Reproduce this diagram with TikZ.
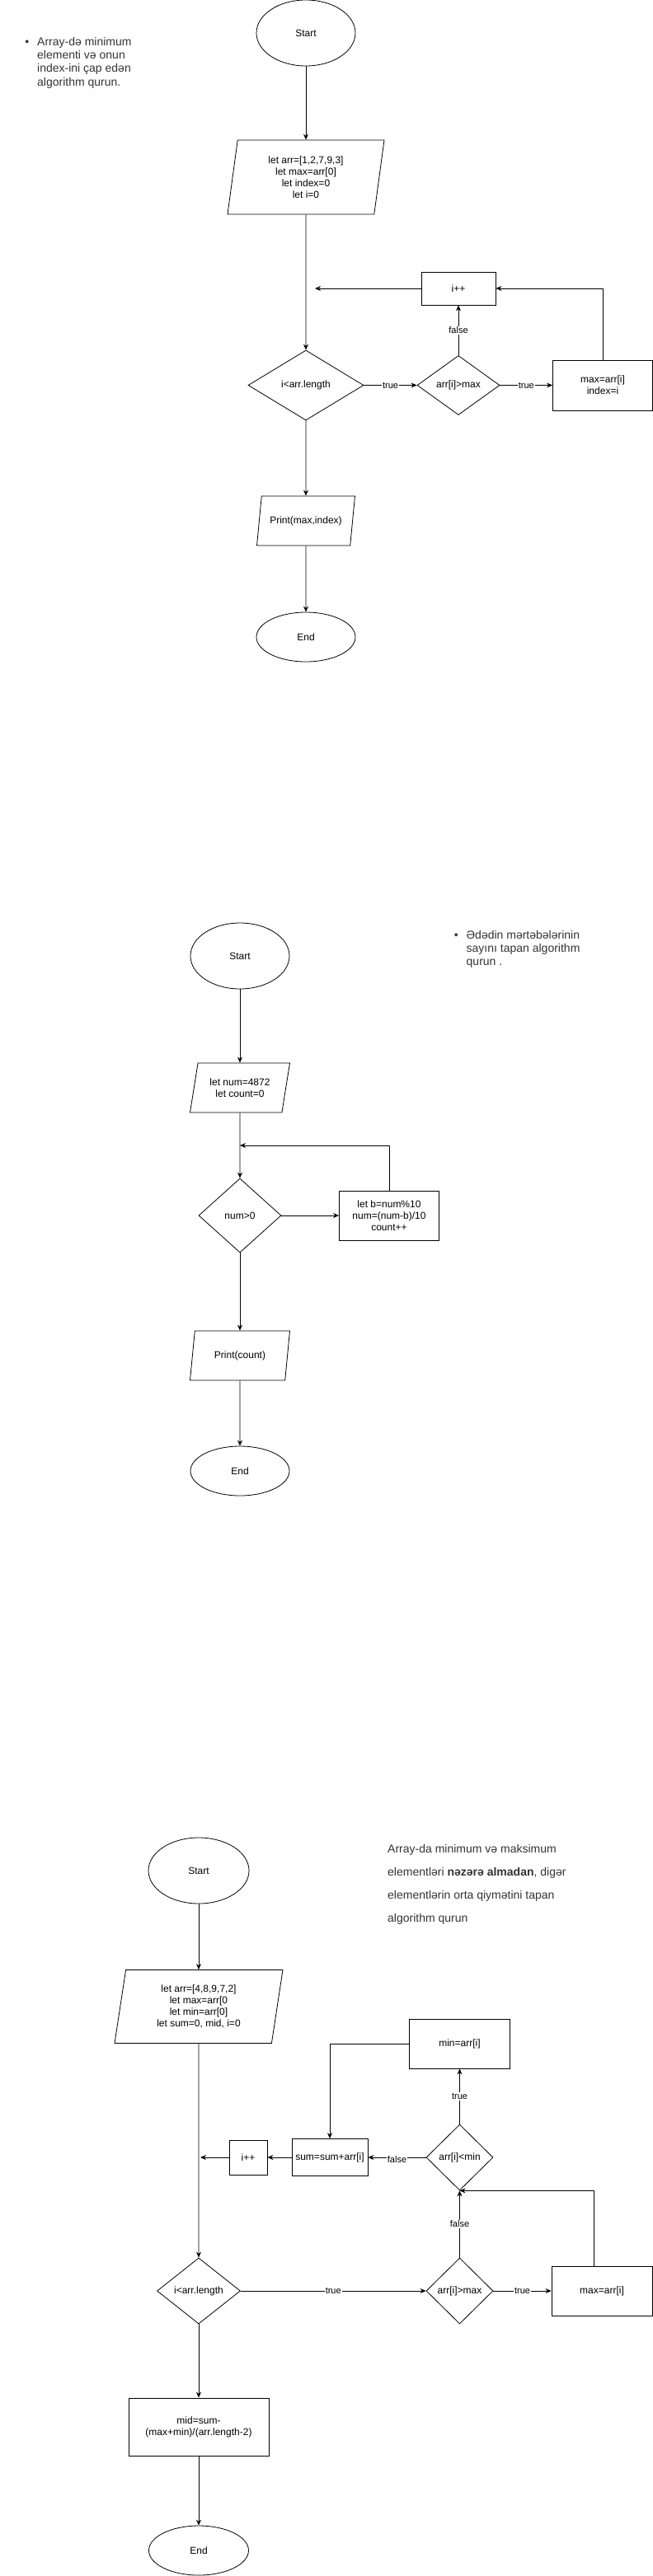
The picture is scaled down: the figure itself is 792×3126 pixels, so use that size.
\documentclass[tikz,border=0pt]{standalone}
\usepackage{fontspec}
\setmainfont{Liberation Sans}
\usepackage{xcolor}
\usepackage{tikz}
\usetikzlibrary{shapes.geometric, arrows, arrows.meta}
\usetikzlibrary{positioning}
\definecolor{notegray}{HTML}{333333}
\tikzstyle{startstop} = [ellipse, minimum width=120pt, minimum height=60pt, text centered, draw=black, thick, font=\fontsize{12}{14}\selectfont]
\tikzstyle{io} = [trapezium, trapezium left angle=72, trapezium right angle=108, trapezium stretches body, minimum width=120pt, minimum height=60pt, inner xsep=2pt, align=center, draw=black, thick, font=\fontsize{12}{14}\selectfont]
\tikzstyle{process} = [rectangle, minimum width=121pt, minimum height=60pt, inner sep=2pt, align=center, draw=black, thick, font=\fontsize{12}{14}\selectfont]
\tikzstyle{decision} = [diamond, minimum width=100pt, minimum height=80pt, inner sep=0pt, align=center, draw=black, thick, font=\fontsize{12}{14}\selectfont]
\tikzstyle{arrow} = [thick,->,>={Stealth[length=7pt,width=6pt]}]
\tikzstyle{lbl} = [fill=white, inner sep=1pt, font=\fontsize{11}{13}\selectfont]
\tikzstyle{note} = [anchor=north west, align=left, inner sep=0pt, text=notegray]

\begin{document}
\begin{tikzpicture}[x=1pt, y=-1pt]
    \useasboundingbox (0,0) rectangle (792,3126);

    \node (n1) [note, font=\fontsize{14}{16.3}\selectfont] at (45,45) {\llap{•\hspace{10pt}}Array-də minimum\\elementi və onun\\index-ini çap edən\\algorithm qurun.};
    \node (1) [startstop, minimum height=80pt] at (371,40) {Start};
    \node (2) [io, below of=1, node distance=175pt, minimum width=190pt, minimum height=90pt, trapezium left angle=78, trapezium right angle=102] {let arr=[1,2,7,9,3]\\let max=arr[0]\\let index=0\\let i=0};
    \node (3) [decision, below of=2, node distance=252.5pt, minimum width=140pt, minimum height=85pt] {i<arr.length};
    \node (4) [decision, right of=3, node distance=185pt, minimum height=72pt] {arr[i]>max};
    \node (5) [process, right of=4, node distance=175pt, minimum height=61pt] {max=arr[i]\\index=i};
    \node (6) [process, above of=4, node distance=117.5pt, minimum width=90pt, minimum height=40pt] {i++};
    \node (7) [io, below of=3, node distance=164.5pt, minimum width=119pt, inner xsep=-7pt] {Print(max,index)};
    \node (8) [startstop, below of=7, node distance=141pt] {End};
    \coordinate [left of=6, node distance=174pt] (c1);

    \draw [arrow] (1) -- (2);
    \draw [arrow] (2) -- (3);
    \draw [arrow] (3) -- node [lbl] {true} (4);
    \draw [arrow] (4) -- node [lbl] {true} (5);
    \draw [arrow] (4) -- node [lbl] {false} (6);
    \draw [arrow] (5.north) |- (6.east);
    \draw [arrow] (6) -- (c1);
    \draw [arrow] (3) -- (7);
    \draw [arrow] (7) -- (8);

    \node (n2) [note, font=\fontsize{14}{16}\selectfont] at (565.5,1129) {\llap{•\hspace{10pt}}Ədədin mərtəbələrinin\\sayını tapan algorithm\\qurun .};
    \node (9) [startstop, minimum height=80pt] at (291,1160) {Start};
    \node (10) [io, below of=9, node distance=160pt, minimum width=121pt] {let num=4872\\let count=0};
    \node (11) [decision, below of=10, node distance=155pt, minimum height=90pt] {num>0};
    \node (12) [process, right of=11, node distance=181pt] {let b=num\%10\\num=(num-b)/10\\count++};
    \node (13) [io, below of=11, node distance=170pt, minimum width=121pt] {Print(count)};
    \node (14) [startstop, below of=13, node distance=140pt] {End};
    \coordinate [above of=11, node distance=85pt] (c2);

    \draw [arrow] (9) -- (10);
    \draw [arrow] (10) -- (11);
    \draw [arrow] (11) -- (12);
    \draw [arrow] (12.north) |- (c2);
    \draw [arrow] (11) -- (13);
    \draw [arrow] (13) -- (14);

    \node (n3) [note, font=\fontsize{14}{28}\selectfont] at (470,2238) {Array-da minimum və maksimum\\elementləri \textbf{nəzərə almadan}, digər\\elementlərin orta qiymətini tapan\\algorithm qurun};
    \node (15) [startstop, minimum width=122pt, minimum height=80pt] at (241,2270) {Start};
    \node (16) [io, below of=15, node distance=165pt, minimum width=204pt, minimum height=89pt, trapezium left angle=77, trapezium right angle=103] {let arr=[4,8,9,7,2]\\let max=arr[0\\let min=arr[0]\\let sum=0, mid, i=0};
    \node (17) [decision, below of=16, node distance=345pt, minimum width=101pt] {i<arr.length};
    \node (18) [decision, right of=17, node distance=316.5pt, minimum width=81pt] {arr[i]>max};
    \node (19) [process, right of=18, node distance=172.5pt, minimum width=122pt] {max=arr[i]};
    \node (20) [decision, above of=18, node distance=162pt, minimum width=81pt] {arr[i]<min};
    \node (21) [process, above of=20, node distance=138pt, minimum width=122pt] {min=arr[i]};
    \node (22) [process, left of=20, node distance=157.5pt, minimum width=92pt, minimum height=45pt] {sum=sum+arr[i]};
    \node (23) [process, left of=22, node distance=99pt, minimum width=46pt, minimum height=42pt] {i++};
    \node (24) [process, below of=17, node distance=165pt, minimum width=170pt, minimum height=70pt] {mid=sum-\\(max+min)/(arr.length-2)};
    \node (25) [startstop, below of=24, node distance=150pt, minimum width=121pt] {End};
    \coordinate [left of=23, node distance=58pt] (c3);

    \draw [arrow] (15) -- (16);
    \draw [arrow] (16) -- (17);
    \draw [arrow] (17) -- node [lbl] {true} (18);
    \draw [arrow] (18) -- node [lbl] {true} (19);
    \draw [arrow] (18) -- node [lbl] {false} (20);
    \draw [arrow] ([xshift=-10pt]19.north) |- (20.south);
    \draw [arrow] (20) -- node [lbl] {true} (21);
    \draw [arrow] (21.west) -| (22.north);
    \draw [arrow] (20) -- node [lbl, yshift=-3pt] {false} (22);
    \draw [arrow] (22) -- (23);
    \draw [arrow] (23) -- (c3);
    \draw [arrow] (17) -- (24);
    \draw [arrow] (24) -- (25);
\end{tikzpicture}
\end{document}
